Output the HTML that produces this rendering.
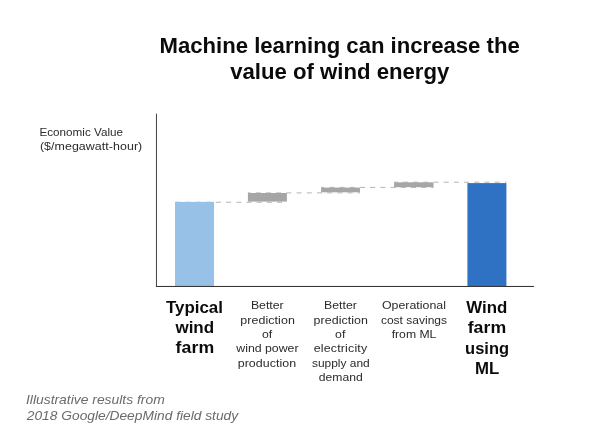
<!DOCTYPE html>
<html lang="en">
<head>
<meta charset="utf-8">
<meta name="viewport" content="width=604, initial-scale=1">
<title>Machine learning can increase the value of wind energy</title>
<style>
html, body { margin: 0; padding: 0; background: #ffffff; }
body { width: 604px; height: 437px; position: relative; overflow: hidden;
       font-family: "Liberation Sans", sans-serif; }
main, figure, h1, ul, li, figcaption, .axis-title { margin: 0; padding: 0; list-style: none; font-size: inherit; font-weight: normal; }
svg { position: absolute; left: 0; top: 0; }
.t { position: absolute; left: 0; top: 0; display: block; transform-origin: 0 0; white-space: nowrap; line-height: 1; }
.h { font-size: 21.5px; font-weight: bold; color: #0b0b0b; }
.y { font-size: 11.5px; color: #2b2b2b; }
.b { font-size: 16.4px; font-weight: bold; color: #0b0b0b; }
.s { font-size: 11.5px; color: #2b2b2b; }
.f { font-size: 13.4px; font-style: italic; color: #6a6a6a; }
</style>
</head>
<body>
<main>
<h1>
  <span class="t h" style="transform:translate(159.51px,36px) scaleX(1.0289);">Machine learning can increase the</span>
  <span class="t h" style="transform:translate(230.22px,62px) scaleX(1.03);">value of wind energy</span>
</h1>
<figure>
<svg width="604" height="437" viewBox="0 0 604 437">
  <g stroke="#b4b4b4" stroke-width="1" stroke-dasharray="5 5.2" fill="none">
    <line x1="175" y1="202.25" x2="287" y2="202.25" stroke-dashoffset="-0.1"/>
    <line x1="248" y1="192.9" x2="360" y2="192.9" stroke-dashoffset="2.4"/>
    <line x1="321.2" y1="187.4" x2="433.5" y2="187.4" stroke-dashoffset="2"/>
    <line x1="394.1" y1="182.2" x2="506.4" y2="182.2" stroke-dashoffset="1.4"/>
  </g>
  <rect x="175" y="201.9" width="39" height="84.3" fill="#97c1e6"/>
  <rect x="247.9" y="193" width="39" height="8.6" fill="#a6a6a6"/>
  <rect x="321.1" y="187.6" width="38.9" height="4.7" fill="#a6a6a6"/>
  <rect x="394.1" y="182.3" width="39.4" height="4.9" fill="#a6a6a6"/>
  <rect x="467.4" y="183.1" width="39" height="103.1" fill="#2f72c3"/>
  <rect x="155.95" y="113.7" width="1.05" height="173.3" fill="#4a4a4a"/>
  <rect x="156" y="285.95" width="377.9" height="1.05" fill="#363636"/>
</svg>
<div class="axis-title">
  <span class="t y" style="transform:translate(39.48px,127px) scaleX(1.0149);">Economic Value</span>
  <span class="t y" style="transform:translate(39.88px,141px) scaleX(1.08);letter-spacing:0.05px;">($/megawatt-hour)</span>
</div>
<ul class="cats">
  <li>
    <span class="t b" style="transform:translate(165.98px,299px) scaleX(1.031);">Typical</span>
    <span class="t b" style="transform:translate(175.42px,319px) scaleX(1.037);">wind</span>
    <span class="t b" style="transform:translate(175.6px,339px) scaleX(1.08);letter-spacing:0.06px;">farm</span>
  </li>
  <li>
    <span class="t s" style="transform:translate(250.89px,300px) scaleX(1.0682);">Better</span>
    <span class="t s" style="transform:translate(240.37px,315px) scaleX(1.08);letter-spacing:0.06px;">prediction</span>
    <span class="t s" style="transform:translate(262.02px,329px) scaleX(1.0684);">of</span>
    <span class="t s" style="transform:translate(236.25px,343px) scaleX(1.0711);">wind power</span>
    <span class="t s" style="transform:translate(237.72px,358px) scaleX(1.08);letter-spacing:0.05px;">production</span>
  </li>
  <li>
    <span class="t s" style="transform:translate(324.05px,300px) scaleX(1.0682);">Better</span>
    <span class="t s" style="transform:translate(313.62px,315px) scaleX(1.08);letter-spacing:0.04px;">prediction</span>
    <span class="t s" style="transform:translate(335.11px,329px) scaleX(1.0684);">of</span>
    <span class="t s" style="transform:translate(313.74px,343px) scaleX(1.08);letter-spacing:0.15px;">electricity</span>
    <span class="t s" style="transform:translate(311.9px,358px) scaleX(1.0396);">supply and</span>
    <span class="t s" style="transform:translate(318.74px,372px) scaleX(1.057);">demand</span>
  </li>
  <li>
    <span class="t s" style="transform:translate(381.91px,300px) scaleX(1.0763);">Operational</span>
    <span class="t s" style="transform:translate(380.92px,315px) scaleX(1.0448);">cost savings</span>
    <span class="t s" style="transform:translate(391.66px,329px) scaleX(1.0608);">from ML</span>
  </li>
  <li>
    <span class="t b" style="transform:translate(466.34px,299px) scaleX(1.0274);">Wind</span>
    <span class="t b" style="transform:translate(467.63px,319px) scaleX(1.08);letter-spacing:0.09px;">farm</span>
    <span class="t b" style="transform:translate(465.1px,340px) scaleX(1.0041);">using</span>
    <span class="t b" style="transform:translate(474.95px,360px) scaleX(1.0247);">ML</span>
  </li>
</ul>
<figcaption>
  <span class="t f" style="transform:translate(25.98px,393px) scaleX(1.0357);">Illustrative results from</span>
  <span class="t f" style="transform:translate(26.78px,409px) scaleX(1.0288);">2018 Google/DeepMind field study</span>
</figcaption>
</figure>
</main>
</body>
</html>
